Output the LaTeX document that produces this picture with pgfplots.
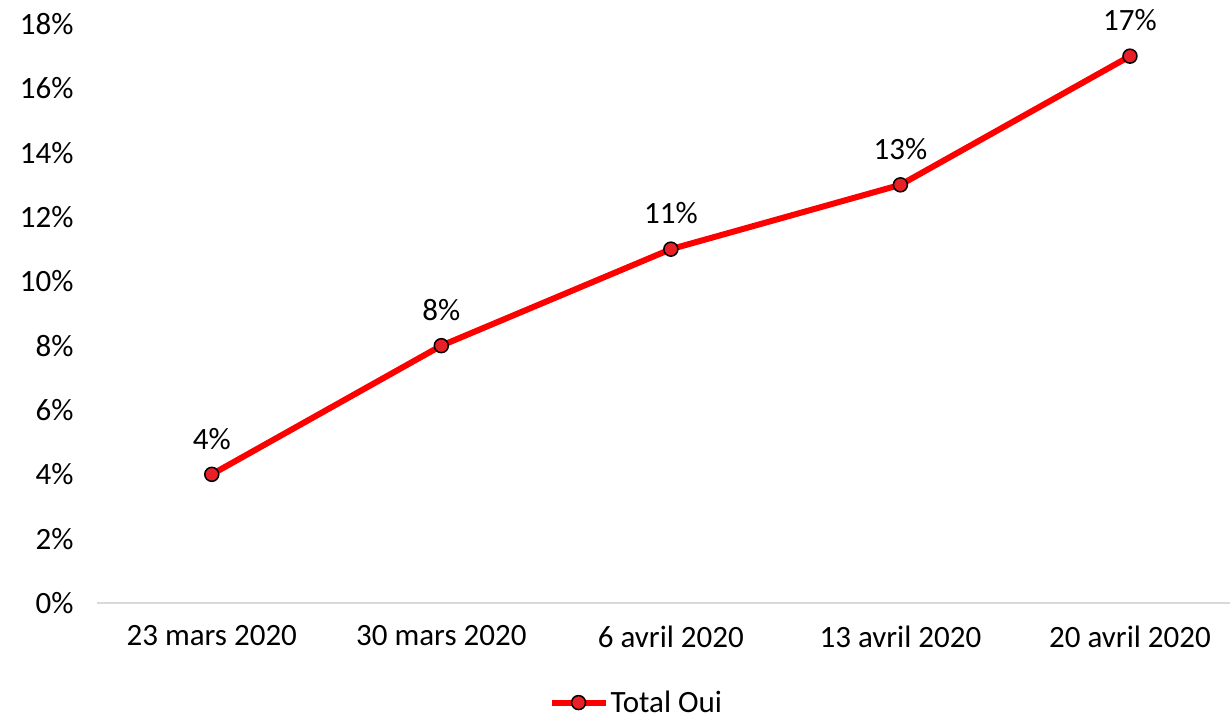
\documentclass[border=0pt]{standalone}
\usepackage{pgfplots}
\pgfplotsset{compat=1.18}
\usepackage{fontspec}
\setmainfont{Carlito}

\definecolor{linered}{RGB}{255,0,0}
\definecolor{markred}{RGB}{232,32,40}
\definecolor{axisgray}{RGB}{217,217,217}

\newcommand{\lbl}{\fontsize{31bp}{37bp}\selectfont}

\begin{document}
\begin{tikzpicture}
\begin{axis}[
    at={(0,0)}, anchor=south west,
    scale only axis,
    width=1133bp, height=579bp,
    xmin=-0.5, xmax=4.436,
    ymin=0, ymax=18,
    axis x line*=bottom, axis y line*=left,
    x axis line style={axisgray, line width=2bp},
    y axis line style={draw=none},
    major tick length=0pt,
    xtick={0,1,2,3,4},
    xticklabels={23 mars 2020, 30 mars 2020, 6 avril 2020, 13 avril 2020, 20 avril 2020},
    ytick={0,2,...,18},
    yticklabel={\pgfmathprintnumber{\tick}\%},
    /pgf/number format/assume math mode=true,
    tick label style={font=\lbl},
    xticklabel style={yshift=-19bp},
    yticklabel style={xshift=-20bp},
    clip=false,
    legend style={draw=none, font=\lbl, at={(0.476,-0.172)}, anchor=center,
        inner sep=0pt, cells={anchor=west}},
    legend image code/.code={%
        \draw[mark repeat=2, mark phase=2, #1]
            plot coordinates {(0bp,0bp) (27bp,0bp) (54bp,0bp)};},
]
\addplot[
    color=linered, line width=6bp,
    mark=*, mark size=7bp,
    mark options={fill=markred, draw=black, line width=1.5bp},
    nodes near coords={\pgfmathprintnumber{\pgfplotspointmeta}\%},
    every node near coord/.append style={font=\lbl, color=black, yshift=21bp},
] coordinates {(0,4) (1,8) (2,11) (3,13) (4,17)};
\addlegendentry{Total Oui}
\end{axis}
\pgfresetboundingbox
\path[use as bounding box] (-97bp,-117bp) rectangle (1133bp,603bp);
\end{tikzpicture}
\end{document}
